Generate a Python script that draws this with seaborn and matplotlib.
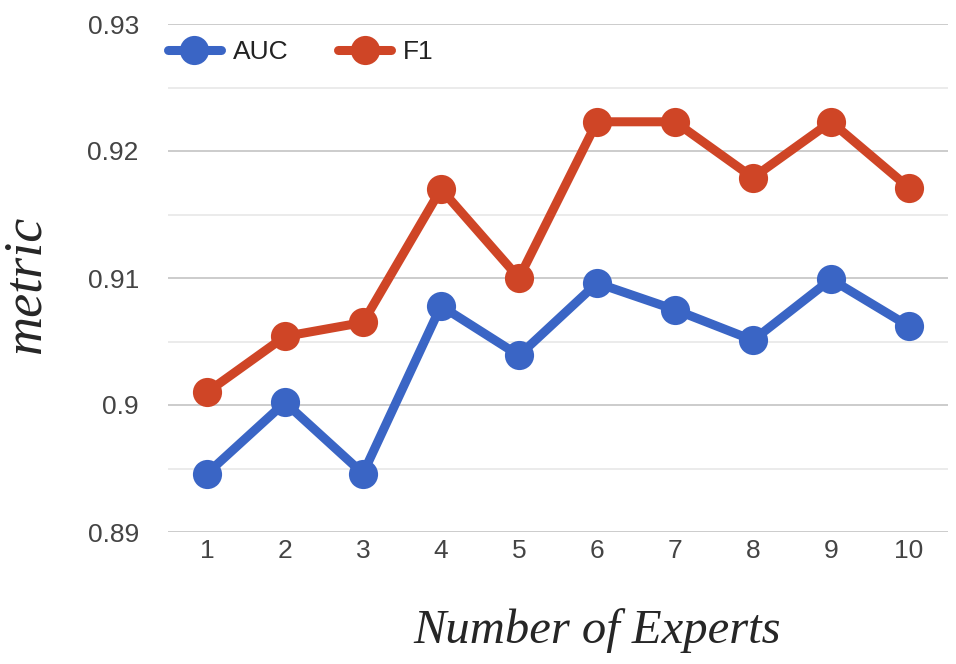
import matplotlib
matplotlib.use('Agg')
import matplotlib.pyplot as plt
import seaborn as sns
import pandas as pd

# values
experts = [1, 2, 3, 4, 5, 6, 7, 8, 9, 10]
auc = [0.8946, 0.9002, 0.8946, 0.9078, 0.9039, 0.9096, 0.9075, 0.9051, 0.9099, 0.9062]
f1 = [0.9010, 0.9054, 0.9065, 0.9170, 0.9100, 0.9223, 0.9223, 0.9179, 0.9223, 0.9171]

df = pd.DataFrame({'experts': experts * 2,
                   'value': auc + f1,
                   'metric': ['AUC'] * 10 + ['F1'] * 10})

sns.set_style('white')
plt.rcParams['font.family'] = ['Liberation Sans', 'DejaVu Sans']

fig = plt.figure(figsize=(9.56, 6.64), dpi=100)
ax = fig.add_axes([168 / 956, 1 - 532 / 664, (948 - 168) / 956, (532 - 24) / 664])

# gridlines: major every 0.01, minor in between
for v in [0.89, 0.90, 0.91, 0.92, 0.93]:
    ax.axhline(v, color='#cccccc', lw=1.4, zorder=0)
for v in [0.895, 0.905, 0.915, 0.925]:
    ax.axhline(v, color='#ebebeb', lw=1.4, zorder=0)

sns.lineplot(data=df, x='experts', y='value', hue='metric',
             palette={'AUC': '#3a65c5', 'F1': '#cf4526'},
             marker='o', markersize=21, markeredgewidth=0,
             linewidth=6.5, ax=ax, legend=True)

ax.set_xlim(0.5, 10.5)
ax.set_ylim(0.89, 0.93)
ax.set_xticks(experts)
ax.set_xticklabels([str(e) for e in experts])
ax.set_yticks([0.89, 0.90, 0.91, 0.92, 0.93])
ax.set_yticklabels(['0.89', '0.9', '0.91', '0.92', '0.93'])
ax.tick_params(axis='both', length=0, labelsize=19, labelcolor='#444444')
ax.tick_params(axis='y', pad=21)
ax.tick_params(axis='x', pad=5)
for s in ax.spines.values():
    s.set_visible(False)

ax.set_xlabel('')
ax.set_ylabel('')
fig.text(0.625, 0.051, 'Number of Experts', ha='center', va='center',
         fontsize=35, style='italic', family=['Liberation Serif', 'DejaVu Serif'])
fig.text(0.027, 0.571, 'metric', ha='center', va='center', rotation=90,
         fontsize=39, style='italic', family=['Liberation Serif', 'DejaVu Serif'])

leg = ax.legend(loc='center left', bbox_to_anchor=(0.0, 0.945), ncol=2, frameon=False,
                fontsize=19, handlelength=2.0, columnspacing=1.9, handletextpad=0.45,
                borderaxespad=0, borderpad=0)
for t in leg.get_texts():
    t.set_color('#222222')

fig.savefig('out.png', dpi=100)
